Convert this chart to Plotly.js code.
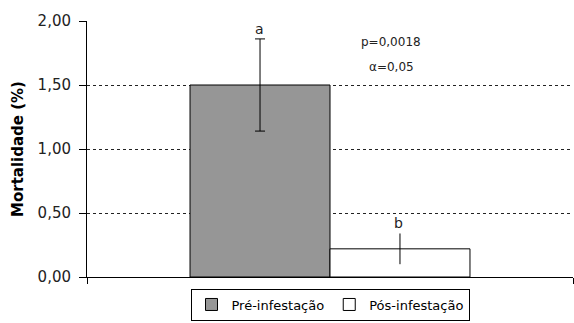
<!DOCTYPE html>
<html><head><meta charset="utf-8">
<script src="https://cdn.plot.ly/plotly-3.0.1.min.js"></script>
<style>html,body{margin:0;padding:0;background:#fff;}</style>
</head><body>
<div id="chart" style="width:574px;height:323px;"></div>
<script>
var categories = ["Mortalidade"];
var seriesNames = ["Pré-infestação", "Pós-infestação"];
var preValues = [1.50];
var preErrors = [0.36];
var posValues = [0.22];
var posErrors = [0.12];
var letters = ["a", "b"];
var statsText = ["p=0,0018", "α=0,05"];
var yTicks = [0, 0.5, 1, 1.5, 2];

var font = "DejaVu Sans, Liberation Sans, Arial, sans-serif";
var traces = [
  {type: "bar", name: seriesNames[0], x: categories, y: preValues,
   marker: {color: "#969696", line: {color: "#000", width: 1}},
   error_y: {type: "data", array: preErrors, visible: true, color: "#000", thickness: 1, width: 5}},
  {type: "bar", name: seriesNames[1], x: categories, y: posValues,
   marker: {color: "#ffffff", line: {color: "#000", width: 1}},
   error_y: {type: "data", array: posErrors, visible: true, color: "#000", thickness: 1, width: 0}}
];
var layout = {
  width: 574, height: 323,
  margin: {l: 87, r: 1, t: 21, b: 46, autoexpand: false},
  paper_bgcolor: "#fff", plot_bgcolor: "#fff",
  separators: ",.",
  barmode: "group", bargap: 0.424, bargroupgap: 0,
  font: {family: font, size: 12, color: "#000"},
  showlegend: true,
  legend: {orientation: "h", x: 0.5, xanchor: "center", y: -0.17, yanchor: "bottom",
           bordercolor: "#000", borderwidth: 1, font: {size: 13, color: "#000"},
           itemwidth: 30, tracegroupgap: 0},
  xaxis: {showticklabels: false, showline: true, linecolor: "#000", linewidth: 1,
          tickmode: "array", tickvals: [-0.5, 0.5], ticks: "outside", ticklen: 6, tickcolor: "#000",
          range: [-0.5, 0.5], showgrid: false, zeroline: false},
  yaxis: {range: [0, 2], tickvals: yTicks, tickformat: ".2f", ticks: "outside", ticklen: 7,
          tickcolor: "#000", showline: true, linecolor: "#000", linewidth: 1, ticklabelstandoff: 5,
          showgrid: true, gridcolor: "#222", griddash: "3px,3px", gridwidth: 1, zeroline: false,
          tickfont: {size: 15, color: "#222"},
          title: {text: "<b>Mortalidade (%)</b>", font: {size: 15, color: "#000"}, standoff: 10}},
  annotations: [
    {xref: "paper", yref: "y", x: 0.354, y: preValues[0] + preErrors[0], text: letters[0], showarrow: false, yanchor: "bottom", font: {size: 14, color: "#222"}},
    {xref: "paper", yref: "y", x: 0.640, y: posValues[0] + posErrors[0], text: letters[1], showarrow: false, yanchor: "bottom", font: {size: 14, color: "#222"}},
    {xref: "paper", yref: "y", x: 0.626, y: 1.836, text: statsText[0], showarrow: false, font: {size: 12, color: "#222"}},
    {xref: "paper", yref: "y", x: 0.626, y: 1.64, text: statsText[1], showarrow: false, font: {size: 12, color: "#222"}}
  ]
};
Plotly.newPlot("chart", traces, layout, {displayModeBar: false});
</script>
</body></html>
